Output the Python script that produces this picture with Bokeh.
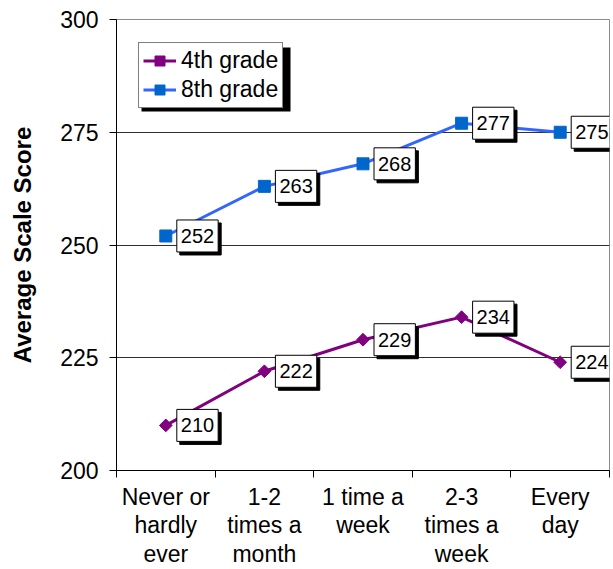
from bokeh.plotting import figure
from bokeh.models import (Range1d, FixedTicker, Legend, LegendItem,
                          BoxAnnotation, Label)
from bokeh.embed import file_html
from bokeh.resources import INLINE
import math

# ---- data ----
categories = ["Never or\nhardly\never", "1-2\ntimes a\nmonth", "1 time a\nweek",
              "2-3\ntimes a\nweek", "Every\nday"]
grade4 = [210, 222, 229, 234, 224]
grade8 = [252, 263, 268, 277, 275]
y_ticks = [200, 225, 250, 275, 300]
series_names = ["4th grade", "8th grade"]

xs = list(range(1, len(categories) + 1))
FONT = "Liberation Sans"

p = figure(width=613, height=569, output_backend="svg", toolbar_location=None,
           x_range=Range1d(0.5, len(categories) + 0.5),
           y_range=Range1d(y_ticks[0], y_ticks[-1]),
           min_border_left=116, min_border_right=4,
           min_border_top=19, min_border_bottom=99)
p.background_fill_color = "white"
p.border_fill_color = "white"
p.outline_line_color = "#8c8c8c"
p.outline_line_width = 1

# y axis
ya = p.yaxis[0]
ya.ticker = FixedTicker(ticks=y_ticks)
ya.axis_line_color = "black"
ya.major_tick_line_color = "black"
ya.major_tick_out = 7
ya.major_tick_in = 0
ya.minor_tick_line_color = None
ya.major_label_text_font = FONT
ya.major_label_text_font_size = "23px"
ya.major_label_text_color = "black"
ya.major_label_standoff = 11
ya.axis_label = "Average Scale Score"
ya.axis_label_text_font = FONT
ya.axis_label_text_font_style = "bold"
ya.axis_label_text_font_size = "24px"
ya.axis_label_text_color = "black"
ya.axis_label_standoff = 21

# x axis: labels at category centres, ticks at category boundaries
xa = p.xaxis[0]
xa.ticker = FixedTicker(ticks=xs, minor_ticks=[x - 0.5 for x in xs] + [xs[-1] + 0.5])
xa.major_label_overrides = {x: c for x, c in zip(xs, categories)}
xa.axis_line_color = "black"
xa.major_tick_out = 0
xa.major_tick_in = 0
xa.major_tick_line_color = None
xa.minor_tick_out = 7
xa.minor_tick_in = 0
xa.minor_tick_line_color = "black"
xa.major_label_text_font = FONT
xa.major_label_text_font_size = "23px"
xa.major_label_text_line_height = 1.1
xa.major_label_text_color = "black"
xa.major_label_standoff = 6

# grid
p.xgrid.visible = False
p.ygrid.ticker = FixedTicker(ticks=y_ticks[1:-1])
p.ygrid.grid_line_color = "#303030"
p.ygrid.grid_line_width = 1

# series
l4 = p.line(xs, grade4, line_color="#800080", line_width=3)
s4 = p.scatter(xs, grade4, marker="square", angle=math.pi / 4, size=9,
               fill_color="#800080", line_color="#800080")
l8 = p.line(xs, grade8, line_color="#3366FF", line_width=3)
s8 = p.scatter(xs, grade8, marker="square", size=12,
               fill_color="#0066CC", line_color="#0066CC")

# data labels (boxed, with drop shadow)
for vals in (grade4, grade8):
    for x, v in zip(xs, vals):
        p.add_layout(Label(x=x, y=v, text=str(v), x_offset=14, y_offset=-3,
                           text_align="left", text_baseline="middle",
                           text_font=FONT, text_font_size="20px",
                           text_color="black",
                           background_fill_color="black",
                           border_line_color="black", padding=(4, 9)))
        p.add_layout(Label(x=x, y=v, text=str(v), x_offset=11, y_offset=0,
                           text_align="left", text_baseline="middle",
                           text_font=FONT, text_font_size="20px",
                           text_color="black",
                           background_fill_color="white",
                           border_line_color="black", border_line_width=1,
                           padding=(4, 9)))

# legend with shadow
shadow = BoxAnnotation(left=25, right=174, bottom=359, top=423,
                       left_units="screen", right_units="screen",
                       bottom_units="screen", top_units="screen",
                       fill_color="black", fill_alpha=1, line_color=None)
p.add_layout(shadow)

legend = Legend(items=[LegendItem(label=series_names[0], renderers=[l4, s4]),
                       LegendItem(label=series_names[1], renderers=[l8, s8])],
                location=(22, 362))
legend.label_text_font = FONT
legend.label_text_font_size = "23px"
legend.label_text_color = "black"
legend.glyph_width = 33
legend.glyph_height = 25
legend.label_height = 25
legend.spacing = 2
legend.padding = 4
legend.margin = 0
legend.label_standoff = 5
legend.border_line_color = "black"
legend.border_line_width = 1
legend.background_fill_color = "white"
legend.background_fill_alpha = 1
p.add_layout(legend)

open("out.html", "w").write(file_html(p, INLINE))
